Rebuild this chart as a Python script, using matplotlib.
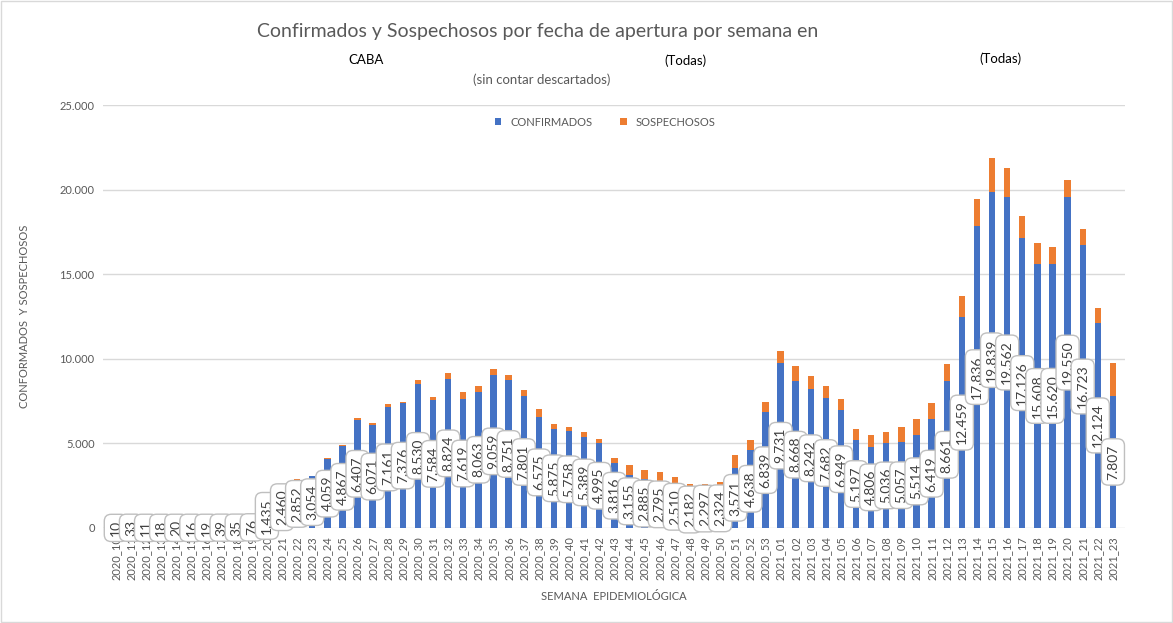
import matplotlib.pyplot as plt
from matplotlib.patches import Rectangle

plt.rcParams['font.family'] = ['Lato', 'DejaVu Sans']

semanas = ['2020_%02d' % s for s in range(10, 54)] + ['2021_%02d' % s for s in range(1, 24)]

confirmados = [10, 33, 11, 18, 20, 16, 19, 39, 35, 76,
               1435, 2460, 2852, 3054, 4059, 4867, 6407, 6071, 7161, 7376,
               8530, 7584, 8824, 7619, 8063, 9059, 8751, 7801, 6575, 5875,
               5758, 5389, 4995, 3816, 3155, 2885, 2795, 2510, 2182, 2297,
               2324, 3571, 4638, 6839,
               9731, 8668, 8242, 7682, 6949, 5197, 4806, 5036, 5057, 5514,
               6419, 8661, 12459, 17836, 19839, 19562, 17126, 15608, 15620, 19550,
               16723, 12124, 7807]

sospechosos = [0, 2, 1, 1, 1, 1, 1, 2, 2, 3,
               20, 30, 40, 45, 80, 40, 120, 130, 170, 70,
               220, 180, 355, 410, 355, 355, 295, 355, 470, 270,
               210, 285, 265, 320, 570, 545, 515, 500, 420, 300,
               410, 750, 590, 630,
               750, 890, 770, 690, 650, 650, 710, 660, 900, 950,
               950, 1045, 1260, 1600, 2010, 1715, 1300, 1240, 1000, 1000,
               945, 890, 1950]

color1 = '#4472C4'
color2 = '#ED7D31'
gris = '#595959'

fig = plt.figure(figsize=(11.73, 6.23), dpi=100)
ax = fig.add_axes([103 / 1173, 1 - 528 / 623, 1022 / 1173, 423 / 623])

index = range(len(semanas))
ax.bar(index, confirmados, 0.42, color=color1, label='CONFIRMADOS', zorder=2)
ax.bar(index, sospechosos, 0.42, bottom=confirmados, color=color2, label='SOSPECHOSOS', zorder=2)

# etiquetas de confirmados en el centro de cada barra azul
for i, v in enumerate(confirmados):
    ax.text(i, v / 2, f'{v:,}'.replace(',', '.'), rotation=90, ha='center', va='center',
            fontsize=10, color='#404040', zorder=3,
            bbox=dict(boxstyle='round,pad=0.4,rounding_size=0.5', fc='white', ec='#BFBFBF', lw=1))

ax.set_xlim(-0.85, 66.8)
ax.set_ylim(0, 25000)
ax.set_yticks(range(0, 25001, 5000))
ax.set_yticklabels([f'{t:,}'.replace(',', '.') for t in range(0, 25001, 5000)], fontsize=8, color=gris)
ax.set_xticks(list(index))
ax.set_xticklabels(semanas, rotation=90, fontsize=8, color=gris)
ax.tick_params(length=0, pad=6)
ax.grid(axis='y', color='#D9D9D9', lw=1, zorder=0)
for s in ax.spines.values():
    s.set_visible(False)

ax.set_ylabel('CONFORMADOS  Y SOSPECHOSOS', fontsize=8, color=gris)
ax.yaxis.set_label_coords(-73 / 1022, 0.5)
ax.set_xlabel('SEMANA  EPIDEMIOLÓGICA', fontsize=8, color=gris, labelpad=8)

fig.legend(loc='center', bbox_to_anchor=(605 / 1173, 1 - 122 / 623), ncol=2, frameon=False,
           fontsize=8, handlelength=0.6, handleheight=0.6, columnspacing=2.5, labelcolor=gris)

fig.text(538 / 1173, 1 - 32 / 623, 'Confirmados y Sospechosos por fecha de apertura por semana en',
         ha='center', va='center', fontsize=14, color=gris)
fig.text(366 / 1173, 1 - 60 / 623, 'CABA', ha='center', va='center', fontsize=9.5, color='black')
fig.text(685 / 1173, 1 - 61 / 623, '(Todas)', ha='center', va='center', fontsize=9.5, color='black')
fig.text(1000 / 1173, 1 - 59 / 623, '(Todas)', ha='center', va='center', fontsize=9.5, color='black')
fig.text(542 / 1173, 1 - 80 / 623, '(sin contar descartados)', ha='center', va='center', fontsize=9.5, color=gris)

fig.patches.append(Rectangle((0.001, 0.001), 0.998, 0.997, transform=fig.transFigure,
                             fill=False, ec='#D9D9D9', lw=1))

plt.savefig('out.png', dpi=100)
